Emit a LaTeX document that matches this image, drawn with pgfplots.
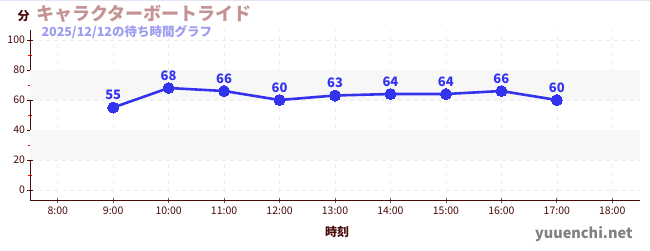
\documentclass[border=0pt]{standalone}
\usepackage{fontspec}
\setmainfont{Noto Sans CJK JP}
\usepackage{pgfplots}
\pgfplotsset{compat=1.18}
\definecolor{axc}{HTML}{4A0A0A}
\definecolor{ttl}{HTML}{C49494}
\definecolor{sub}{HTML}{9C9CF0}
\definecolor{ln}{HTML}{3333EE}
\definecolor{band}{HTML}{F7F7F7}
\definecolor{grd}{HTML}{EDEDED}
\definecolor{topl}{HTML}{E4E4F8}
\begin{document}
\begin{tikzpicture}[x=1pt,y=1pt]
\useasboundingbox (0,0) rectangle (650,250);
\draw[topl,line width=1pt] (0,249.5) -- (650,249.5);
\begin{axis}[
  at={(30pt,50pt)}, anchor=south west,
  scale only axis, width=610pt, height=170pt,
  xmin=7.5, xmax=18.5, ymin=-6.67, ymax=106.67,
  axis x line*=bottom, axis y line*=left,
  axis line style={axc, line width=0.9pt, -},
  xtick={8,...,18},
  xticklabels={8:00,9:00,10:00,11:00,12:00,13:00,14:00,15:00,16:00,17:00,18:00},
  ytick={0,20,40,60,80,100},
  minor ytick={10,30,50,70,90},
  tick align=center,
  major tick length=5pt, minor tick length=4pt,
  every tick/.style={axc, line width=0.8pt},
  minor tick style={red, line width=0.8pt},
  x tick style={gray!70!black, line width=0.8pt},
  tick label style={font=\fontsize{10.5}{12}\selectfont, text=axc},
  /pgf/number format/assume math mode=true,
  xticklabel style={yshift=-1pt},
  yticklabel style={xshift=1pt},
  grid=major,
  major grid style={grd, dash pattern=on 4pt off 4pt, line width=0.6pt},
  clip=false,
  nodes near coords,
  every node near coord/.append style={font=\bfseries\fontsize{13}{14}\selectfont, text=ln, yshift=4pt},
]
\fill[band] (axis cs:7.5,20) rectangle (axis cs:18.5,40);
\fill[band] (axis cs:7.5,60) rectangle (axis cs:18.5,80);
\addplot[ln, line width=2.6pt, mark=*, mark size=5.5pt, mark options={fill=ln, draw=ln, line width=0pt}]
 coordinates {(9,55) (10,68) (11,66) (12,60) (13,63) (14,64) (15,64) (16,66) (17,60)};
\end{axis}
\node[anchor=west, text=axc, font=\bfseries\fontsize{12}{14}\selectfont] at (14,234) {分};
\node[anchor=west, text=ttl, font=\bfseries\fontsize{18}{20}\selectfont] at (33,236) {キャラクターボートライド};
\node[anchor=west, text=sub, font=\bfseries\fontsize{12.5}{14}\selectfont] at (38,218) {2025/12/12の待ち時間グラフ};
\node[text=axc, font=\bfseries\fontsize{12}{14}\selectfont] at (337,18) {時刻};
\node[anchor=east, text=gray, font=\bfseries\fontsize{14.5}{16}\selectfont] at (636,16) {yuuenchi.net};
\end{tikzpicture}
\end{document}
